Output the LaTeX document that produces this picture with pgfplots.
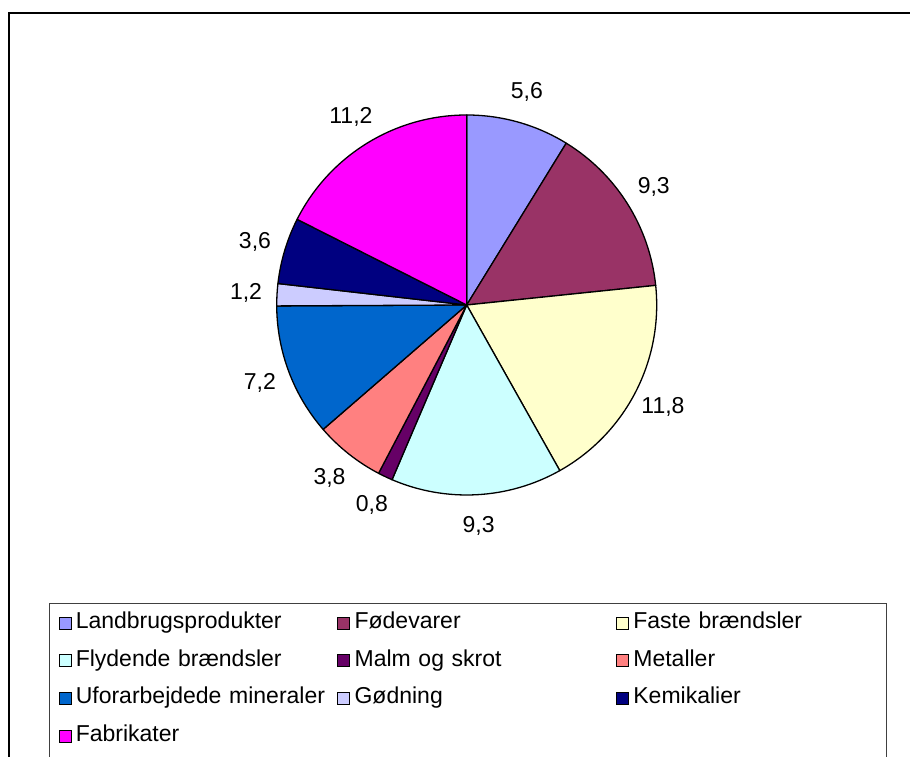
\documentclass[border=0pt]{standalone}
\usepackage{pgfplots}
\pgfplotsset{compat=1.18}
\usepackage{pgfplotstable}
\usepackage{fontspec}
\setmainfont{Liberation Sans}

\definecolor{cLand}{HTML}{9999FF}
\definecolor{cFode}{HTML}{993366}
\definecolor{cFast}{HTML}{FFFFCC}
\definecolor{cFlyd}{HTML}{CCFFFF}
\definecolor{cMalm}{HTML}{660066}
\definecolor{cMeta}{HTML}{FF8080}
\definecolor{cUfor}{HTML}{0066CC}
\definecolor{cGodn}{HTML}{CCCCFF}
\definecolor{cKemi}{HTML}{000080}
\definecolor{cFabr}{HTML}{FF00FF}

\newcommand\labfont{\fontsize{23}{27}\selectfont}

% share per varegruppe, clockwise from 12 o'clock
\pgfplotstableread{
value colour
5.6  cLand
9.3  cFode
11.8 cFast
9.3  cFlyd
0.8  cMalm
3.8  cMeta
7.2  cUfor
1.2  cGodn
3.6  cKemi
11.2 cFabr
}\piedata

\def\cx{466.7}
\def\cy{452}
\def\R{190}

\begin{document}
\begin{tikzpicture}
% cumulative angles of the slices
\pgfplotstablegetrowsof{\piedata}%
\pgfmathtruncatemacro\nlast{\pgfplotsretval-1}%
\gdef\pietotal{0}%
\foreach \i in {0,...,\nlast}{%
  \pgfplotstablegetelem{\i}{value}\of\piedata
  \pgfmathparse{\pietotal+\pgfplotsretval}\xdef\pietotal{\pgfmathresult}}%
\gdef\piecum{0}%
\foreach \i in {0,...,\nlast}{%
  \pgfplotstablegetelem{\i}{value}\of\piedata
  \let\pv\pgfplotsretval
  \pgfmathparse{90-360*(\piecum/\pietotal)}\let\pa\pgfmathresult
  \pgfmathparse{\piecum+\pv}\xdef\piecum{\pgfmathresult}%
  \pgfmathparse{90-360*(\piecum/\pietotal)}\let\pb\pgfmathresult
  \pgfmathparse{(\pa+\pb)/2}\let\pmid\pgfmathresult
  \pgfmathparse{\cx+\R*cos(\pa)}\let\px\pgfmathresult
  \pgfmathparse{\cy+\R*sin(\pa)}\let\py\pgfmathresult
  \pgfmathparse{\cx+221*cos(\pmid)}\let\lx\pgfmathresult
  \pgfmathparse{\cy+221*sin(\pmid)}\let\ly\pgfmathresult
  \pgfplotstablegetelem{\i}{colour}\of\piedata
  \expandafter\xdef\csname pieC\i\endcsname{\pgfplotsretval}%
  \expandafter\xdef\csname pieV\i\endcsname{\pv}%
  \expandafter\xdef\csname pieA\i\endcsname{\pa}%
  \expandafter\xdef\csname pieB\i\endcsname{\pb}%
  \expandafter\xdef\csname pieX\i\endcsname{\px}%
  \expandafter\xdef\csname pieY\i\endcsname{\py}%
  \expandafter\xdef\csname pieLX\i\endcsname{\lx}%
  \expandafter\xdef\csname pieLY\i\endcsname{\ly}%
}%
\begin{axis}[
    width=910pt, height=757pt,
    scale only axis,
    hide axis,
    clip=false,
    xmin=0, xmax=910, ymin=0, ymax=757,
    legend columns=3,
    legend cell align=left,
    legend image code/.code={\draw[#1, line width=0.8pt] (0pt,-6pt) rectangle (12pt,6pt);},
    legend style={
        at={(0.05385,0.2034)}, anchor=north west,
        draw=black!75, line width=1pt, fill=white,
        inner xsep=9pt, inner ysep=10pt,
        row sep=18.7pt, column sep=0pt,
        font=\labfont,
        nodes={text width=240pt, text height=15pt, text depth=4pt,
               inner xsep=4.5pt, inner ysep=0pt, align=left},
        /tikz/every even column/.append style={column sep=17pt},
    },
]
% chart frame
\draw[line width=1.3pt] (axis cs:9,-5) -- (axis cs:9,744) -- (axis cs:915,744);

\pgfplotsinvokeforeach{0,...,9}{%
  \edef\temp{\noexpand\filldraw[fill=\csname pieC#1\endcsname, draw=black, line width=1.3pt, line join=round]
    (axis cs:\cx,\cy) -- (axis cs:\csname pieX#1\endcsname,\csname pieY#1\endcsname)
    arc[start angle=\csname pieA#1\endcsname, end angle=\csname pieB#1\endcsname, radius=\R pt] -- cycle;}\temp
  \edef\temp{\noexpand\node[font=\noexpand\labfont] at (axis cs:\csname pieLX#1\endcsname,\csname pieLY#1\endcsname)
    {\noexpand\pgfmathprintnumber[use comma,fixed,precision=1,fixed zerofill,assume math mode=true]{\csname pieV#1\endcsname}};}\temp
}

\addlegendimage{fill=cLand, draw=black}\addlegendentry{Landbrugsprodukter}
\addlegendimage{fill=cFode, draw=black}\addlegendentry{Fødevarer}
\addlegendimage{fill=cFast, draw=black}\addlegendentry{Faste brændsler}
\addlegendimage{fill=cFlyd, draw=black}\addlegendentry{Flydende brændsler}
\addlegendimage{fill=cMalm, draw=black}\addlegendentry{Malm og skrot}
\addlegendimage{fill=cMeta, draw=black}\addlegendentry{Metaller}
\addlegendimage{fill=cUfor, draw=black}\addlegendentry{\mbox{Uforarbejdede mineraler}}
\addlegendimage{fill=cGodn, draw=black}\addlegendentry{Gødning}
\addlegendimage{fill=cKemi, draw=black}\addlegendentry{Kemikalier}
\addlegendimage{fill=cFabr, draw=black}\addlegendentry{Fabrikater}
% empty cells so the legend box runs on below the picture's edge
\addlegendimage{empty legend}\addlegendentry{}
\addlegendimage{empty legend}\addlegendentry{}
\addlegendimage{empty legend}\addlegendentry{}
\end{axis}
\pgfresetboundingbox
\path[use as bounding box] (0,0) rectangle (910pt,757pt);
\end{tikzpicture}
\end{document}
